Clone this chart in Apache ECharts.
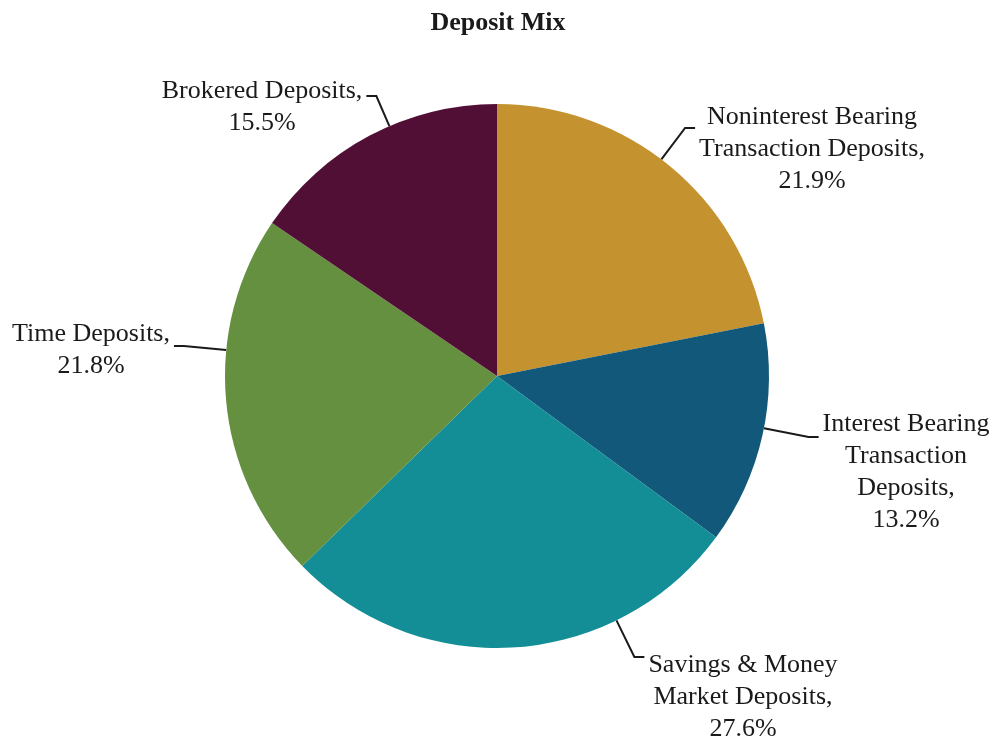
<!DOCTYPE html>
<html>
<head>
<meta charset="utf-8">
<script src="https://cdn.jsdelivr.net/npm/echarts@6/dist/echarts.min.js"></script>
<style>
  html, body { margin: 0; padding: 0; background: #fff; }
  #chart { width: 996px; height: 739px; }
</style>
</head>
<body>
<div id="chart"></div>
<script>
// Deposit mix by category, percent of total deposits
const categories = [
  'Noninterest Bearing\nTransaction Deposits,',
  'Interest Bearing\nTransaction\nDeposits,',
  'Savings & Money\nMarket Deposits,',
  'Time Deposits,',
  'Brokered Deposits,'
];
const shares = [21.9, 13.2, 27.6, 21.8, 15.5];
const colors = ['#C4922E', '#12587A', '#138E96', '#64903F', '#520F35'];

// Pie geometry and label placement (px)
const PIE_CENTER = [497, 376];
const PIE_RADIUS = 272;
const labelCenters = [
  [812, 149],
  [906, 472],
  [743, 697],
  [91, 350],
  [262, 107]
];
// where the leader line meets each label, measured down from the label's top edge
const leaderAttach = [24, 26, 5, 25, 18];
const LEADER_GAP = 4;     // gap between leader end and label box
const LEADER_ELBOW = 10;  // horizontal run of the leader

const chart = echarts.init(document.getElementById('chart'), null, { renderer: 'canvas' });

const data = categories.map((name, i) => ({
  name: name,
  value: shares[i],
  itemStyle: { color: colors[i] }
}));

// Leader line: horizontal run beside the label, then straight to the nearest point on the rim
function leaderPoints(i, rect) {
  const c = labelCenters[i];
  const onRight = c[0] > PIE_CENTER[0];
  const top = c[1] - rect.height / 2;
  const ay = top + leaderAttach[i];
  const ax = onRight ? c[0] - rect.width / 2 - LEADER_GAP : c[0] + rect.width / 2 + LEADER_GAP;
  const ex = onRight ? ax - LEADER_ELBOW : ax + LEADER_ELBOW;
  const dx = ex - PIE_CENTER[0], dy = ay - PIE_CENTER[1];
  const len = Math.sqrt(dx * dx + dy * dy);
  const sx = PIE_CENTER[0] + dx / len * PIE_RADIUS;
  const sy = PIE_CENTER[1] + dy / len * PIE_RADIUS;
  return [[sx, sy], [ex, ay], [ax, ay]];
}

chart.setOption({
  animation: false,
  backgroundColor: '#ffffff',
  title: {
    text: 'Deposit Mix',
    left: 'center',
    top: 5,
    textStyle: {
      fontFamily: 'Liberation Serif',
      fontWeight: 'bold',
      fontSize: 26,
      color: '#1a1a1a'
    }
  },
  series: [{
    type: 'pie',
    center: PIE_CENTER,
    radius: PIE_RADIUS,
    startAngle: 90,
    clockwise: true,
    data: data,
    label: {
      show: true,
      position: 'outside',
      formatter: p => {
        const lines = (p.name + '\n' + p.value.toFixed(1) + '%').split('\n');
        return lines.map(l => '{c|' + l + '}').join('\n');
      },
      rich: {
        c: {
          fontFamily: 'Liberation Serif',
          fontSize: 26,
          lineHeight: 32,
          color: '#1a1a1a',
          align: 'center'
        }
      }
    },
    labelLine: {
      show: true,
      length: 30,
      length2: 10,
      lineStyle: { color: '#1a1a1a', width: 2 }
    },
    labelLayout: params => {
      const i = params.dataIndex;
      const c = labelCenters[i];
      return {
        x: c[0],
        y: c[1],
        align: 'center',
        verticalAlign: 'middle',
        labelLinePoints: leaderPoints(i, params.labelRect)
      };
    }
  }]
});
</script>
</body>
</html>
